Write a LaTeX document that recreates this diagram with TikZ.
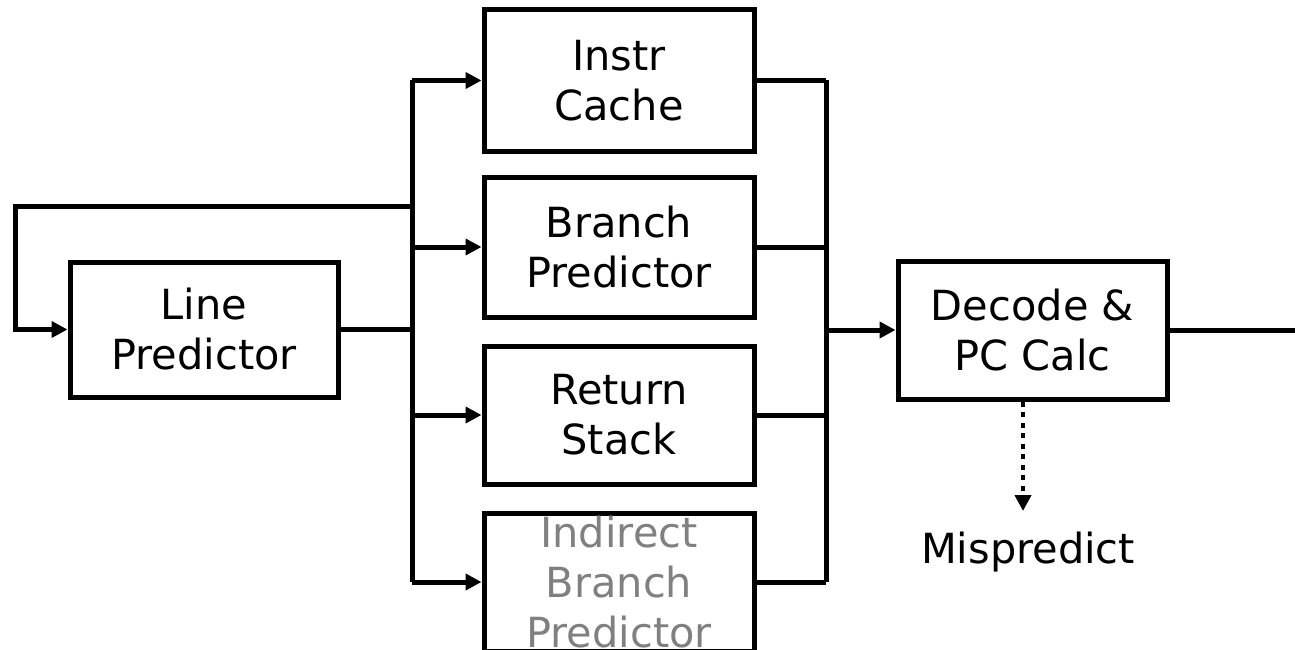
\documentclass[tikz,border=0pt]{standalone}
\usepackage{fontspec}
\setmainfont{DejaVu Sans}
\usetikzlibrary{arrows.meta}

\begin{document}
\begin{tikzpicture}[x=1pt, y=-1pt, line width=5pt,
		font=\fontsize{41.5}{50}\selectfont,
		blk/.style={draw, align=center, inner sep=0pt, minimum width=270pt, minimum height=138pt},
		arr/.style={-{Triangle[length=16pt, width=16pt]}},
		mis/.style={line width=4pt, dash pattern=on 5pt off 5.5pt, -{Triangle[length=16pt, width=16pt]}}]
		\useasboundingbox (0,0) rectangle (1295,650);
		\clip (0,0) rectangle (1295,650);

		\node (lp)[blk, minimum width=268pt, minimum height=135pt] at (204, 329.5) {Line\\Predictor};

		\node (ic)[blk, minimum height=141pt] at (619, 80.5)  {Instr\\Cache};
		\node (bp)[blk, minimum height=140pt] at (619, 247)   {Branch\\Predictor};
		\node (rs)[blk] at (619, 415)   {Return\\Stack};
		\node (ib)[blk, text=black!50] at (619, 582) {Indirect\\Branch\\Predictor};

		\node (dc)[blk, minimum width=269pt] at (1032.5, 330) {Decode \&\\PC Calc};
		\node (mp)[inner sep=0pt, anchor=base] at (1028, 563) {Mispredict};

		\coordinate (sl) at (412, 329.5);
		\coordinate (sr) at (826, 330);
		\coordinate (fb) at (15, 206);
		\coordinate (out) at (1300, 330);
		\coordinate (mt) at (1023, 511);

		% fan out from the line predictor
		\draw (lp.east) -- (sl);
		\draw (sl |- ic.west) -- (sl |- ib.west);
		\foreach \b in {ic, bp, rs, ib}
			\draw [arr] (sl |- \b.west) -- (\b.west);
		\draw [arr] (sl |- fb) -- (fb) |- (lp.west);

		% merge into decode
		\draw (sr |- ic.east) -- (sr |- ib.east);
		\foreach \b in {ic, bp, rs, ib}
			\draw (\b.east) -- (sr |- \b.east);
		\draw [arr] (sr) -- (dc.west);
		\draw (dc.east) -- (out);

		\draw [mis] (mt |- dc.south) -- (mt);
	\end{tikzpicture}
\end{document}
